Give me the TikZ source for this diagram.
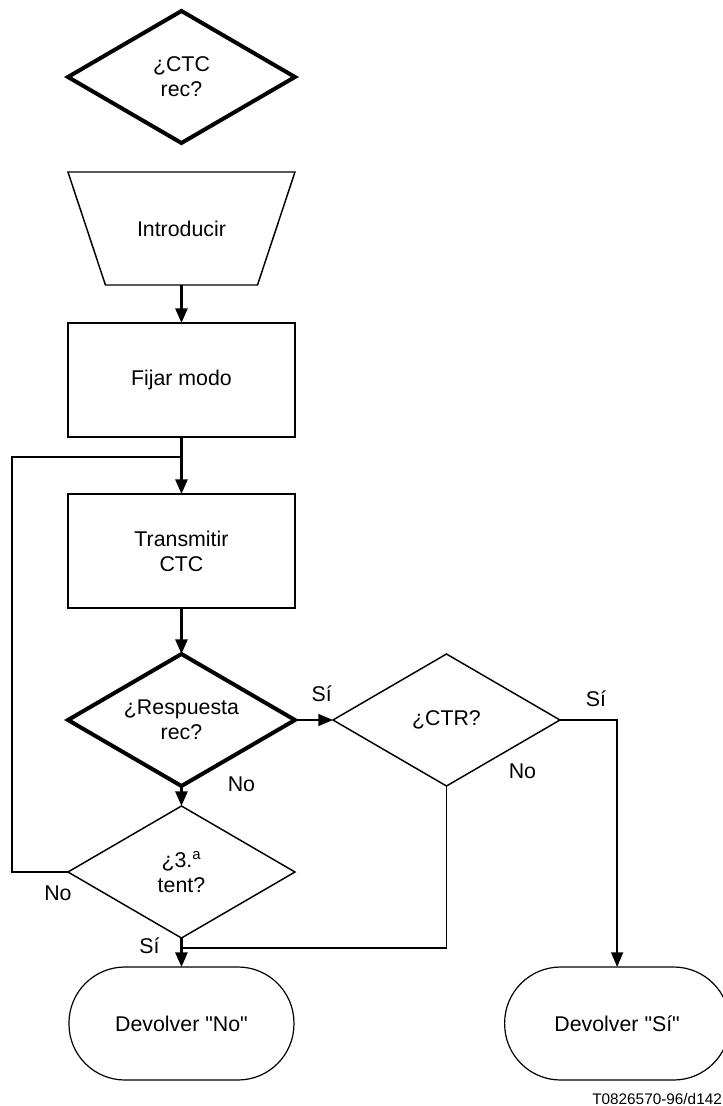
\documentclass[tikz,border=0pt]{standalone}
\usepackage{fontspec}
\setmainfont{Liberation Sans}
\usetikzlibrary{shapes,arrows.meta,positioning}

\begin{document}
\begin{tikzpicture}[
    font=\fontsize{16}{18.75}\selectfont,
    box/.style={rectangle, draw, line width=1.1pt, outer sep=0pt, minimum width=170.25pt, minimum height=85.5pt, align=center},
    decision/.style={diamond, draw, line width=1.1pt, outer sep=0pt, minimum width=170.25pt, minimum height=99pt, inner sep=0pt, aspect=1.7, align=center},
    bigdecision/.style={decision, line width=3pt},
    manual/.style={rectangle, outer sep=0pt, minimum width=170.25pt, minimum height=84.75pt},
    terminal/.style={rectangle, draw, line width=0.9pt, outer sep=0pt, rounded corners=42pt, minimum width=168.75pt, minimum height=84.75pt},
    lbl/.style={inner sep=0pt},
    arrow/.style={-{Triangle[length=11pt,width=9pt]}, line width=2pt},
    thinarrow/.style={-{Triangle[length=11pt,width=9pt]}, line width=1.1pt},
    link/.style={line width=1.1pt}
]
\useasboundingbox (0,0) rectangle (542.25pt,-829.5pt);

\node[bigdecision] (ctc) at (136.1pt,-57.75pt) {¿CTC\\rec?};
\node[manual, below=21.75pt of ctc] (intro) {Introducir};
\node[box, below=28.5pt of intro] (fijar) {Fijar modo};
\node[box, below=42.75pt of fijar] (trans) {Transmitir\\CTC};
\node[bigdecision, below=34.5pt of trans] (resp) {¿Respuesta\\rec?};
\node[decision, right=28.5pt of resp] (ctr) {¿CTR?};
\node[decision, below=15pt of resp] (tent) {¿3.\textsuperscript{a}\\tent?};
\node[terminal, below=21.75pt of tent] (devno) {Devolver \textquotedbl No\textquotedbl};
\node[terminal, right=158pt of devno] (devsi) {Devolver \textquotedbl Sí\textquotedbl};

% manual input outline
\draw[link] (intro.north west) -- (intro.north east)
    -- ([xshift=-28.1pt]intro.south east) -- ([xshift=28.1pt]intro.south west) -- cycle;

% labels on the branches
\node[lbl] (resp-si) at ([xshift=20pt, yshift=20pt]resp.east) {Sí};
\node[lbl] (resp-no) at ([xshift=45pt, yshift=1.5pt]resp.south) {No};
\node[lbl] (ctr-si) at ([xshift=27pt, yshift=16pt]ctr.east) {Sí};
\node[lbl] (ctr-no) at ([xshift=57pt, yshift=11pt]ctr.south) {No};
\node[lbl] (tent-no) at ([xshift=-7.5pt, yshift=-15.75pt]tent.west) {No};
\node[lbl] (tent-si) at ([xshift=-24pt, yshift=-6pt]tent.south) {Sí};

\coordinate (loop) at ([yshift=-15pt]fijar.south);
\coordinate (merge) at ([yshift=-7.5pt]tent.south);

\draw[arrow] (intro) -- (fijar);
\draw[arrow] (fijar) -- (trans);
\draw[arrow] (trans) -- (resp);
\draw[arrow] (resp) -- (tent);
\draw[arrow] (tent) -- (devno);
\draw[thinarrow] (resp) -- (ctr);
\draw[thinarrow] (ctr.east) -| (devsi.north);
\draw[link] (ctr.south) |- (merge);
\draw[link] (tent.west) -- ++(-42pt,0) |- (loop);

\node[anchor=base west, inner sep=0pt, font=\fontsize{11.5}{13}\selectfont] (code) at (444pt,-828.5pt) {T0826570-96/d142};
\end{tikzpicture}
\end{document}
